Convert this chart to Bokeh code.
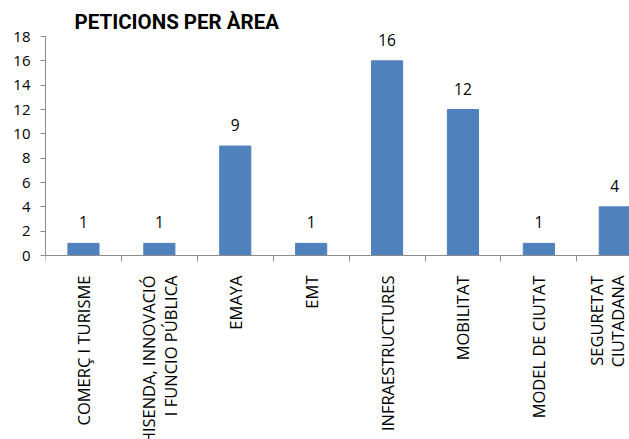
import math
from bokeh.plotting import figure
from bokeh.models import Range1d, FixedTicker, ColumnDataSource, Label
from bokeh.core.properties import value
from bokeh.embed import file_html
from bokeh.resources import INLINE

title_text = "PETICIONS PER ÀREA"
categories = ["COMERÇ I TURISME", "HISENDA, INNOVACIÓ\nI FUNCIO PÚBLICA", "EMAYA", "EMT",
              "INFRAESTRUCTURES", "MOBILITAT", "MODEL DE CIUTAT", "SEGURETAT\nCIUTADANA"]
counts = [1, 1, 9, 1, 16, 12, 1, 4]
y_ticks = [0, 2, 4, 6, 8, 10, 12, 14, 16, 18]

n = len(categories)
centers = [i + 0.5 for i in range(n)]
bounds = list(range(n + 1))

FONT = "Open Sans"
AXIS_COLOR = "#8c8c8c"

p = figure(width=629, height=439, output_backend="svg", toolbar_location=None,
           x_range=Range1d(0, 7.694), y_range=Range1d(-15.12, 20.96),
           min_border_left=45, min_border_right=0, min_border_top=0, min_border_bottom=0)
p.outline_line_color = None
p.xgrid.grid_line_color = None
p.ygrid.grid_line_color = None

title = Label(x=0.382, y=19.2, text=title_text, text_font="Roboto", text_font_size="20.5px",
              text_font_style="bold", text_color="#000000", text_baseline="alphabetic")
p.add_layout(title)

src = ColumnDataSource(dict(x=centers, top=counts, lbl=[str(c) for c in counts]))
p.vbar(x="x", top="top", bottom=0, width=0.41, source=src, fill_color="#4F81BD", line_color="#4F81BD")
p.text(x="x", y="top", text="lbl", source=src, text_align="center", text_baseline="alphabetic",
       y_offset=-21, text_font=value(FONT), text_font_size="15.5px", text_color="#000000")

xa = p.xaxis[0]
xa.fixed_location = 0
xa.ticker = FixedTicker(ticks=centers, minor_ticks=bounds)
xa.major_label_overrides = {c: lab for c, lab in zip(centers, categories)}
xa.major_label_orientation = math.pi / 2
xa.major_tick_out = 0
xa.major_tick_in = 0
xa.minor_tick_out = 6
xa.minor_tick_in = 0
xa.minor_tick_line_color = AXIS_COLOR
xa.axis_line_color = AXIS_COLOR
xa.major_label_standoff = 14
xa.major_label_text_font = FONT
xa.major_label_text_font_size = "16.5px"
xa.major_label_text_color = "#000000"
xa.major_label_text_line_height = 0.95
xa.major_label_text_align = "center"

ya = p.yaxis[0]
ya.bounds = (0, 18)
ya.ticker = FixedTicker(ticks=y_ticks)
ya.major_tick_out = 5
ya.major_tick_in = 0
ya.minor_tick_out = 0
ya.minor_tick_in = 0
ya.major_tick_line_color = AXIS_COLOR
ya.axis_line_color = AXIS_COLOR
ya.major_label_standoff = 10
ya.major_label_text_font = FONT
ya.major_label_text_font_size = "15px"
ya.major_label_text_color = "#000000"

open("out.html", "w").write(file_html(p, INLINE))
